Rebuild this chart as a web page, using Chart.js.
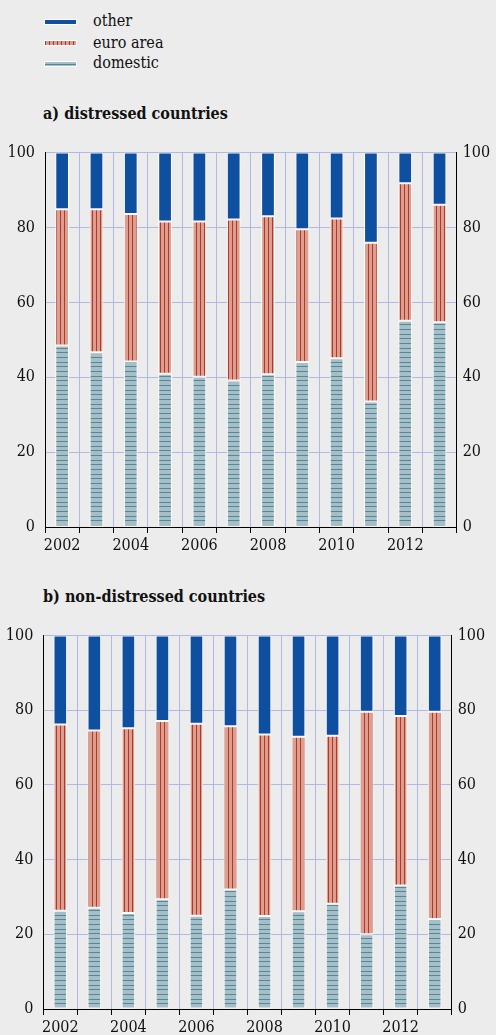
<!DOCTYPE html>
<html lang="en">
<head>
  <meta charset="UTF-8">
  <title>Distressed vs non-distressed</title>
  <script src="https://cdn.jsdelivr.net/npm/chart.js"></script>
  <style>
    body { margin: 0; background: #ececec; font-family: "DejaVu Serif Condensed", "DejaVu Serif", serif; color: #111; }
    #page { position: relative; width: 496px; height: 1035px; overflow: hidden; }
    .txt { position: absolute; font-size: 16px; line-height: 18px; white-space: nowrap; }
    .title { font-weight: bold; left: 43px; }
    .sw { position: absolute; left: 44px; width: 33px; height: 6px; border: 1px solid #fff; box-sizing: border-box; }
    .box { position: absolute; left: 0; width: 496px; }
  </style>
</head>
<body>
<div id="page">
  <div class="sw" style="top:19px;background:#0f4f9f"></div>
  <div class="sw" style="top:40px;background:repeating-linear-gradient(90deg,#b3382a 0 1px,#dc9f8f 1px 4px)"></div>
  <div class="sw" style="top:61px;background:linear-gradient(#a8bec6 0 2px,#4e8a9a 2px 3px,#a8bec6 3px)"></div>
  <div class="txt" style="left:93px;top:12px">other</div>
  <div class="txt" style="left:93px;top:34px">euro area</div>
  <div class="txt" style="left:93px;top:54px">domestic</div>

  <div class="txt title" style="top:105px">a) distressed countries</div>
  <div class="box" style="top:133px;height:427px"><canvas id="chartA"></canvas></div>

  <div class="txt title" style="top:588px">b) non-distressed countries</div>
  <div class="box" style="top:615.7px;height:419.3px"><canvas id="chartB"></canvas></div>
</div>

<script>
const years = ['2002','2003','2004','2005','2006','2007','2008','2009','2010','2011','2012','2013'];
const yTicks = [0, 20, 40, 60, 80, 100];

// a) distressed countries, shares in %
const distDomestic = [48.5, 46.7, 44.2, 40.9, 40.1, 39.1, 40.8, 44.1, 45.1, 33.5, 55.1, 54.7];
const distEuro     = [36.4, 38.2, 39.4, 40.7, 41.5, 43.0, 42.2, 35.4, 37.3, 42.4, 36.7, 31.4];
const distOther    = [15.1, 15.1, 16.4, 18.4, 18.4, 17.9, 17.0, 20.5, 17.6, 24.1, 8.2, 13.9];

// b) non-distressed countries
const nonDomestic = [26.3, 27.1, 25.7, 29.4, 25.0, 32.0, 24.9, 26.2, 28.2, 20.0, 33.1, 24.1];
const nonEuro     = [49.9, 47.5, 49.5, 47.7, 51.4, 43.7, 48.6, 46.7, 45.0, 59.6, 45.4, 55.5];
const nonOther    = [23.8, 25.4, 24.8, 22.9, 23.6, 24.3, 26.5, 27.1, 26.8, 20.4, 21.5, 20.4];

const serif = '"DejaVu Serif Condensed", "DejaVu Serif", serif';
const gridBlue = '#b0b9e6';

function makePattern(w, h, draw) {
  const c = document.createElement('canvas');
  c.width = w; c.height = h;
  draw(c.getContext('2d'));
  return c.getContext('2d').createPattern(c, 'repeat');
}

const euroPattern = makePattern(4, 4, ctx => {
  ctx.fillStyle = '#dc9f8f'; ctx.fillRect(0, 0, 4, 4);
  ctx.fillStyle = '#b3382a'; ctx.fillRect(0, 0, 1, 4);
});
const domPattern = makePattern(4, 14, ctx => {
  ctx.fillStyle = '#a8bec6'; ctx.fillRect(0, 0, 4, 14);
  ctx.fillStyle = '#4e8a9a';
  ctx.fillRect(0, 0, 4, 1); ctx.fillRect(0, 5, 4, 1); ctx.fillRect(0, 9, 4, 1);
});

function buildChart(id, domestic, euro, other, dims) {
  const ds = (label, data, bg) => ({
    label, data, backgroundColor: bg, borderColor: '#fff', borderWidth: 1,
    borderSkipped: false, barPercentage: 0.4, categoryPercentage: 1
  });
  const tickFont = { family: serif, size: 16 };
  return new Chart(document.getElementById(id), {
    type: 'bar',
    data: {
      labels: years,
      datasets: [
        ds('domestic', domestic, domPattern),
        ds('euro area', euro, euroPattern),
        ds('other', other, '#0f4f9f')
      ]
    },
    options: {
      responsive: true,
      maintainAspectRatio: false,
      animation: false,
      events: [],
      layout: { padding: { top: dims.top, left: 0, right: 0, bottom: 0 } },
      plugins: { legend: { display: false }, tooltip: { enabled: false } },
      scales: {
        x: {
          stacked: true,
          offset: true,
          grid: { offset: true, color: gridBlue, tickColor: '#000', tickLength: 6 },
          border: { color: '#000', width: 1 },
          ticks: {
            autoSkip: false, maxRotation: 0, padding: 3,
            color: '#111', font: tickFont,
            callback: (v, i) => (i % 2 === 0 ? years[i] : '')
          },
          afterFit: s => { s.height = dims.xh; }
        },
        y: {
          stacked: true, min: 0, max: 100, position: 'left',
          afterBuildTicks: s => { s.ticks = yTicks.map(v => ({ value: v })); },
          grid: { color: gridBlue, drawTicks: false },
          border: { color: '#000', width: 1 },
          ticks: { padding: 10, color: '#111', font: tickFont },
          afterFit: s => { s.width = dims.left; }
        },
        y2: {
          min: 0, max: 100, position: 'right',
          afterBuildTicks: s => { s.ticks = yTicks.map(v => ({ value: v })); },
          grid: { display: false, drawTicks: false },
          border: { color: '#000', width: 1 },
          ticks: { padding: 6, color: '#111', font: tickFont },
          afterFit: s => { s.width = dims.right; }
        }
      }
    }
  });
}

buildChart('chartA', distDomestic, distEuro, distOther, { top: 0, xh: 33, left: 45, right: 39.3 });
buildChart('chartB', nonDomestic, nonEuro, nonOther, { top: 0, xh: 26.3, left: 43.3, right: 44.3 });
</script>
</body>
</html>
